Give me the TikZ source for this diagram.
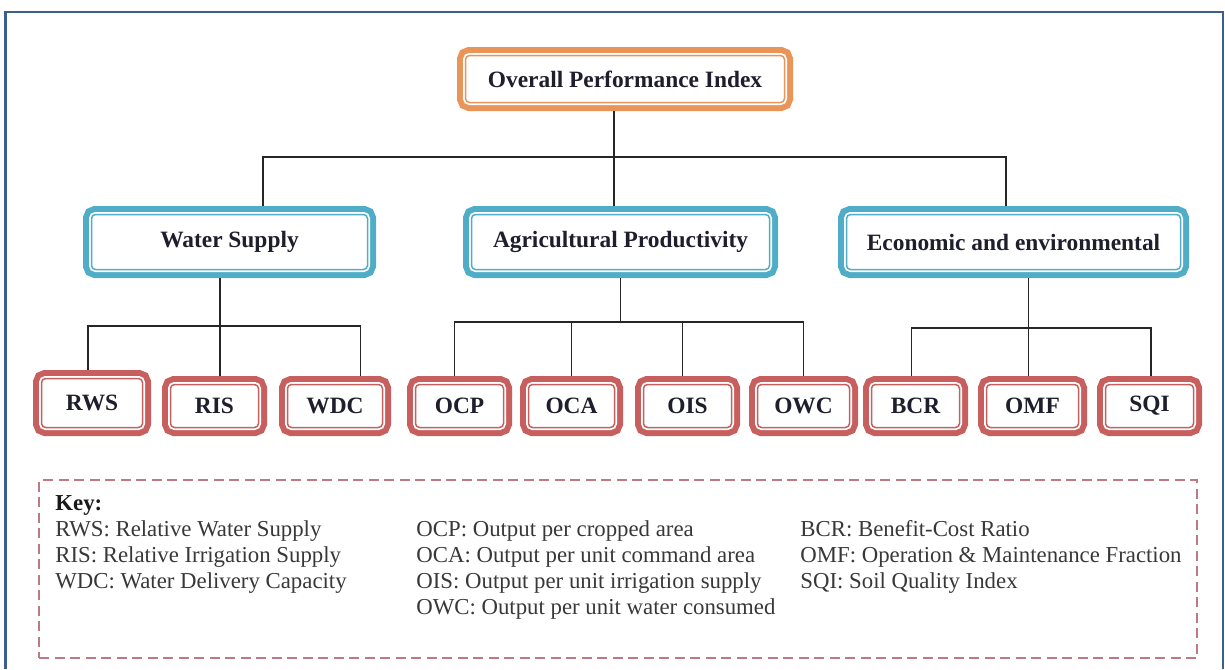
\documentclass[tikz,border=0pt]{standalone}
\usepackage{fontspec}
\setmainfont{Liberation Serif}
\usepackage{xcolor}
\usepackage{tikz}
\usetikzlibrary{positioning,calc}

\definecolor{topcol}{HTML}{E9955A}
\definecolor{midcol}{HTML}{4FADC7}
\definecolor{leafcol}{HTML}{C65F5E}
\definecolor{keycol}{HTML}{BE7A84}
\definecolor{framecol}{HTML}{3C5F91}
\definecolor{boxtext}{HTML}{1E1E2C}

\begin{document}
\begin{tikzpicture}
    \tikzstyle{box} = [rectangle, rounded corners=2pt, fill=white, line width=0.75pt, inner sep=0pt, outer sep=4.25pt, text=boxtext, font=\bfseries\fontsize{11.7}{14}\selectfont]
    \tikzstyle{topbox} = [box, draw=topcol, preaction={draw=topcol, line width=8.5pt}, preaction={draw=white, line width=2.5pt}]
    \tikzstyle{midbox} = [box, draw=midcol, preaction={draw=midcol, line width=8.5pt}, preaction={draw=white, line width=2.5pt}, minimum height=27.5pt]
    \tikzstyle{leaf} = [box, draw=leafcol, preaction={draw=leafcol, line width=8.5pt}, preaction={draw=white, line width=2.5pt}, minimum height=21.5pt, minimum width=44pt]
    \tikzstyle{link} = [draw, line width=0.6pt, black!85]
    \tikzstyle{keyframe} = [draw=keycol, dash pattern=on 5pt off 2.75pt, line width=0.7pt, minimum width=579pt, minimum height=89pt, inner sep=0pt, outer sep=0pt]
    \tikzstyle{keytext} = [align=left, inner sep=0pt, text=black!78, font=\fontsize{11.4}{13}\selectfont]

    \useasboundingbox (0,0) rectangle (612.5pt,-334.5pt);
    \draw [framecol, line width=1.4pt] (2.75pt,-334.5pt) -- (2.75pt,-6pt) -- (611.5pt,-6pt) -- (611.5pt,-334.5pt);

    % index and its three groups
    \node [topbox, minimum width=159.5pt, minimum height=23.5pt] (opi) at (312.5pt,-39.5pt) {Overall Performance Index};
    \node [midbox, minimum width=149pt, below=47.5pt of opi, xshift=-2.25pt] (agri) {Agricultural Productivity};
    \node [midbox, minimum width=138pt, left=43.5pt of agri] (ws) {Water Supply};
    \node [midbox, minimum width=167pt, right=30pt of agri] (econ) {Economic and environmental};

    % indicators
    \node [leaf, minimum width=50.5pt, minimum height=24.5pt] (rws) at (46pt,-201.5pt) {RWS};
    \node [leaf, right=5.5pt of rws, yshift=-1.5pt] (ris) {RIS};
    \node [leaf, minimum width=47.5pt, right=6pt of ris] (wdc) {WDC};
    \node [leaf, right=8pt of wdc] (ocp) {OCP};
    \node [leaf, minimum width=43pt, right=4pt of ocp] (oca) {OCA};
    \node [leaf, right=6pt of oca] (ois) {OIS};
    \node [leaf, minimum width=46pt, right=4.5pt of ois] (owc) {OWC};
    \node [leaf, right=2.5pt of owc] (bcr) {BCR};
    \node [leaf, minimum width=46pt, right=5pt of bcr] (omf) {OMF};
    \node [leaf, right=5pt of omf] (sqi) {SQI};

    % tree lines
    \coordinate (hub) at ([xshift=-5.5pt, yshift=-23pt]opi.south);
    \draw [link] (opi.south -| hub) -- (hub |- agri.north);
    \draw [link] ([xshift=16.75pt]ws.north) |- (hub) -| ([xshift=-3.75pt]econ.north);

    \coordinate (wsbus) at ([xshift=-4.75pt, yshift=-24pt]ws.south);
    \draw [link] (ws.south -| wsbus) -- (wsbus |- ris.north);
    \draw [link] ([xshift=-2pt]rws.north) |- (wsbus) -| ([xshift=12.75pt]wdc.north);

    \coordinate (agbus) at ([yshift=-22pt]agri.south);
    \draw [link] (agri.south) -- (agbus);
    \draw [link] ([xshift=-2.5pt]ocp.north) |- (agbus) -| (owc.north);
    \draw [link] (oca.north) -- (oca.north |- agbus);
    \draw [link] ([xshift=-2.5pt]ois.north) -- ([xshift=-2.5pt]ois.north |- agbus);

    \coordinate (ecbus) at ([xshift=7.5pt, yshift=-25pt]econ.south);
    \draw [link] (econ.south -| ecbus) -- (ecbus |- omf.north);
    \draw [link] ([xshift=-2pt]bcr.north) |- (ecbus) -| ([xshift=0.75pt]sqi.north);

    % key
    \node [keyframe] (key) at (309pt,-284.5pt) {};
    \node [keytext, below right=7.5pt and 8pt of key.north west] (keyws) {\textbf{\color{black!90}Key:}\\RWS: Relative Water Supply\\RIS: Relative Irrigation Supply\\WDC: Water Delivery Capacity};
    \node [keytext, below right=20pt and 188.5pt of key.north west] (keyap) {OCP: Output per cropped area\\OCA: Output per unit command area\\OIS: Output per unit irrigation supply\\OWC: Output per unit water consumed};
    \node [keytext, below right=20pt and 380.5pt of key.north west] (keyee) {BCR: Benefit-Cost Ratio\\OMF: Operation \& Maintenance Fraction\\SQI: Soil Quality Index};
\end{tikzpicture}
\end{document}
